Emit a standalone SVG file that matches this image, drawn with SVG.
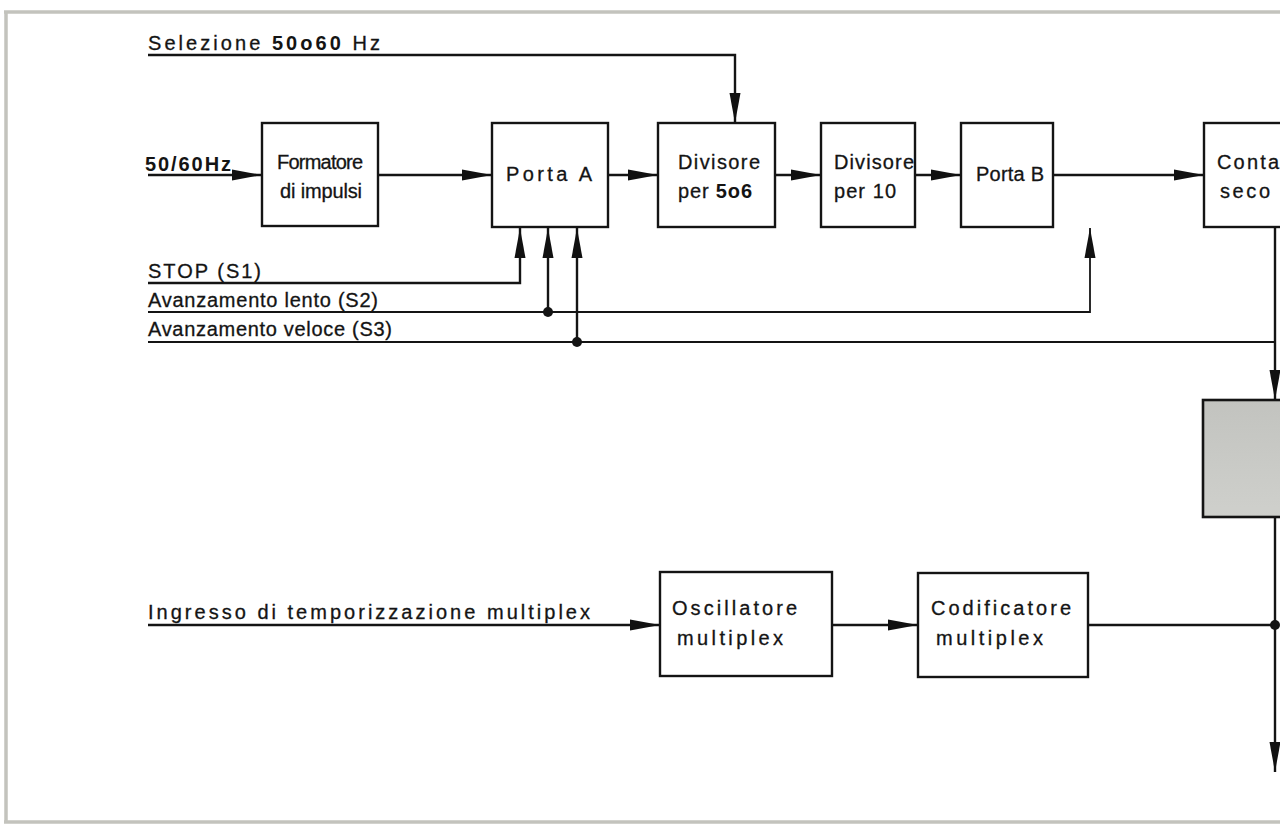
<svg xmlns="http://www.w3.org/2000/svg" width="1280" height="826" viewBox="0 0 1280 826">
<defs>
<marker id="ah" markerUnits="userSpaceOnUse" markerWidth="32" markerHeight="14" refX="30" refY="7" orient="auto">
<path d="M0,1.5 L30,7 L0,12.5 Z" fill="#111"/>
</marker>
<linearGradient id="gr" x1="0" y1="0" x2="0" y2="1">
<stop offset="0" stop-color="#c2c3bf"/>
<stop offset="1" stop-color="#cfd0cc"/>
</linearGradient>
<style>
.box{fill:#fff;stroke:#141414;stroke-width:2.4}
.ln{fill:none;stroke:#141414;stroke-width:2.4}
.th{fill:none;stroke:#141414;stroke-width:1.8}
.t{font-family:"Liberation Sans",Arial,sans-serif;font-size:20px;fill:#141414;stroke:#141414;stroke-width:0.3}
.b{font-weight:bold;stroke-width:0}
.dot{fill:#141414}
</style>
</defs>
<rect x="0" y="0" width="1280" height="826" fill="#fff"/>
<g id="frame" fill="none" stroke="#c3c3bd" stroke-width="3.5">
<line x1="4" y1="12" x2="1280" y2="12"/>
<line x1="6" y1="12" x2="6" y2="822"/>
<line x1="4" y1="822" x2="1280" y2="822"/>
</g>
<g id="connectors">
<polyline class="ln" points="148,55 735,55 735,123" marker-end="url(#ah)"/>
<line class="ln" x1="148" y1="175" x2="262" y2="175" marker-end="url(#ah)"/>
<line class="ln" x1="378" y1="175" x2="492" y2="175" marker-end="url(#ah)"/>
<line class="ln" x1="608" y1="175" x2="658" y2="175" marker-end="url(#ah)"/>
<line class="ln" x1="775" y1="175" x2="821" y2="175" marker-end="url(#ah)"/>
<line class="ln" x1="915" y1="175" x2="961" y2="175" marker-end="url(#ah)"/>
<line class="ln" x1="1053" y1="175" x2="1204" y2="175" marker-end="url(#ah)"/>
<polyline class="ln" points="148,283 520,283 520,228" marker-end="url(#ah)"/>
<polyline class="th" points="148,312 1090,312 1090,228" marker-end="url(#ah)"/>
<line class="ln" x1="548" y1="312" x2="548" y2="228" marker-end="url(#ah)"/>
<polyline class="th" points="148,342 1275,342"/>
<line class="ln" x1="577" y1="342" x2="577" y2="228" marker-end="url(#ah)"/>
<line class="ln" x1="1275" y1="227" x2="1275" y2="400" marker-end="url(#ah)"/>
<line class="ln" x1="1275" y1="517" x2="1275" y2="772" marker-end="url(#ah)"/>
<line class="ln" x1="148" y1="625" x2="660" y2="625" marker-end="url(#ah)"/>
<line class="ln" x1="832" y1="625" x2="918" y2="625" marker-end="url(#ah)"/>
<line class="ln" x1="1088" y1="625" x2="1275" y2="625"/>
<circle class="dot" cx="548" cy="312" r="5"/>
<circle class="dot" cx="577" cy="342" r="5"/>
<circle class="dot" cx="1275" cy="625" r="5"/>
</g>
<g id="labels">
<text class="t" x="148" y="50" font-size="21" textLength="232">Selezione <tspan class="b">50o60</tspan> Hz</text>
<text class="t b" x="145" y="171" textLength="86">50/60Hz</text>
<text class="t" x="148" y="278" textLength="113">STOP (S1)</text>
<text class="t" x="148" y="307" textLength="230">Avanzamento lento (S2)</text>
<text class="t" x="148" y="336" textLength="244">Avanzamento veloce (S3)</text>
<text class="t" x="148" y="619" font-size="22" textLength="442">Ingresso di temporizzazione multiplex</text>
</g>
<g id="formatore">
<rect class="box" x="262" y="123" width="116" height="103"/>
<text class="t" x="277" y="169" textLength="86">Formatore</text>
<text class="t" x="280" y="198" textLength="82">di impulsi</text>
</g>
<g id="porta-a">
<rect class="box" x="492" y="123" width="116" height="104"/>
<text class="t" x="506" y="181" textLength="86">Porta A</text>
</g>
<g id="divisore-5o6">
<rect class="box" x="658" y="123" width="117" height="104"/>
<text class="t" x="678" y="169" textLength="82">Divisore</text>
<text class="t" x="678" y="198" textLength="74">per <tspan class="b">5o6</tspan></text>
</g>
<g id="divisore-10">
<rect class="box" x="821" y="123" width="94" height="104"/>
<text class="t" x="834" y="169" textLength="80">Divisore</text>
<text class="t" x="834" y="198" textLength="62">per 10</text>
</g>
<g id="porta-b">
<rect class="box" x="961" y="123" width="92" height="104"/>
<text class="t" x="976" y="181" textLength="68">Porta B</text>
</g>
<g id="contatore">
<rect class="box" x="1204" y="123" width="90" height="104"/>
<text class="t" x="1217" y="169" textLength="62">Conta</text>
<text class="t" x="1220" y="198" textLength="50">seco</text>
</g>
<g id="gray-block">
<rect x="1203" y="400" width="90" height="117" fill="url(#gr)" stroke="#141414" stroke-width="2.6"/>
</g>
<g id="oscillatore">
<rect class="box" x="660" y="572" width="172" height="104"/>
<text class="t" x="672" y="615" textLength="125">Oscillatore</text>
<text class="t" x="677" y="645" textLength="106">multiplex</text>
</g>
<g id="codificatore">
<rect class="box" x="918" y="573" width="170" height="104"/>
<text class="t" x="931" y="615" textLength="140">Codificatore</text>
<text class="t" x="936" y="645" textLength="107">multiplex</text>
</g>
</svg>
